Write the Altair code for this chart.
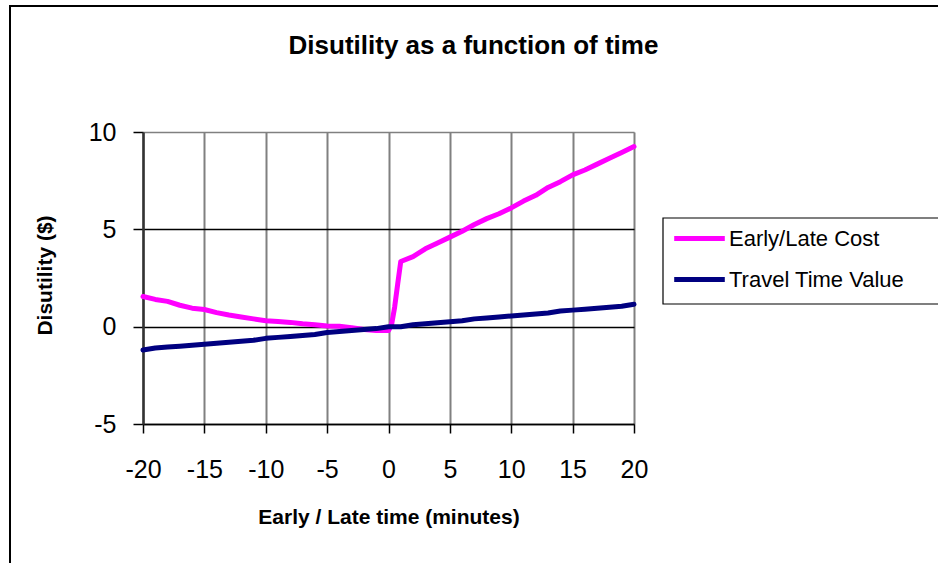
import altair as alt
import pandas as pd

# Minutes early (negative) or late (positive) relative to the preferred arrival time
minutes = list(range(-20, 21))

# Value of travel time, $ (one reading per minute)
travel_time_value = [
    -1.2, -1.1, -1.05, -1.0, -0.95, -0.9, -0.85, -0.8, -0.75, -0.7,
    -0.6, -0.55, -0.5, -0.45, -0.4, -0.3, -0.25, -0.2, -0.15, -0.1,
    0.0, 0.0, 0.1, 0.15, 0.2, 0.25, 0.3, 0.4, 0.45, 0.5,
    0.55, 0.6, 0.65, 0.7, 0.8, 0.85, 0.9, 0.95, 1.0, 1.05, 1.15,
]

# Early/late schedule-delay cost, $ (finer steps around the jump at 0)
cost_minutes = list(range(-20, 1)) + [0.25, 0.5, 0.75] + list(range(1, 21))
early_late_cost = [
    1.55, 1.4, 1.3, 1.1, 0.95, 0.88, 0.72, 0.6, 0.5, 0.4,
    0.3, 0.27, 0.22, 0.15, 0.1, 0.03, 0.02, -0.05, -0.15, -0.2,
    -0.2,
    0.1, 1.0, 2.2,
    3.35, 3.6, 4.0, 4.3, 4.6, 4.9, 5.25, 5.55, 5.8, 6.1,
    6.45, 6.75, 7.15, 7.45, 7.8, 8.05, 8.35, 8.65, 8.95, 9.25,
]

series_names = ["Early/Late Cost", "Travel Time Value"]
series_colors = ["#FF00FF", "#000080"]

data = pd.concat([
    pd.DataFrame({"minutes": cost_minutes, "value": early_late_cost,
                  "series": series_names[0], "order": range(len(cost_minutes))}),
    pd.DataFrame({"minutes": minutes, "value": travel_time_value,
                  "series": series_names[1], "order": range(len(minutes))}),
])

FONT = "Liberation Sans"
PLOT_W, PLOT_H = 491, 292
LEFT, TOP = 143, 132

lines = alt.Chart(data).mark_line(strokeWidth=5, strokeCap="round", strokeJoin="round").encode(
    x=alt.X(
        "minutes:Q",
        scale=alt.Scale(domain=[-20, 20], nice=False, zero=False),
        axis=alt.Axis(
            title="Early / Late time (minutes)",
            values=[-20, -15, -10, -5, 0, 5, 10, 15, 20],
            labelExpr="'' + datum.value",
            grid=True, gridColor="#808080", gridWidth=2,
            domainColor="black", domainWidth=1.5,
            tickColor="black", tickSize=9, tickWidth=1.5,
            labelFont=FONT, labelFontSize=25, labelColor="black",
            labelBaseline="alphabetic", labelPadding=44, labelFlush=False,
            titleFont=FONT, titleFontSize=21, titleFontWeight="bold", titleColor="black",
            titleBaseline="alphabetic", titleY=99, titleX=PLOT_W / 2,
        ),
    ),
    y=alt.Y(
        "value:Q",
        scale=alt.Scale(domain=[-5, 10], nice=False, zero=False),
        axis=alt.Axis(
            title="Disutility ($)",
            values=[-5, 0, 5, 10],
            labelExpr="'' + datum.value",
            grid=True,
            gridColor=alt.condition("datum.value == 10", alt.value("#808080"), alt.value("black")),
            gridWidth=1.3,
            domainColor="#333333", domainWidth=2.5,
            tickColor="black", tickSize=10, tickWidth=1.5,
            labelFont=FONT, labelFontSize=25, labelColor="black",
            labelPadding=17, labelFlush=False,
            titleFont=FONT, titleFontSize=21, titleFontWeight="bold", titleColor="black",
            titleAngle=-90, titleAlign="center", titleBaseline="middle",
            titleX=-98, titleY=143,
        ),
    ),
    color=alt.Color(
        "series:N",
        scale=alt.Scale(domain=series_names, range=series_colors),
        legend=alt.Legend(
            title=None, orient="none", legendX=520, legendY=84,
            symbolType="M-2.3,0H2.3", symbolStrokeWidth=5, symbolSize=484,
            symbolOffset=14, symbolFillColor="transparent",
            labelFont=FONT, labelFontSize=22, labelColor="black",
            labelOffset=16, labelLimit=400,
            padding=9, rowPadding=16,
        ),
    ),
    order="order:Q",
)

# Outer chart frame and the legend box (both run past the right edge)
frame = alt.Chart(alt.Data(values=[{}])).mark_rect(
    fill=None, stroke="black", strokeWidth=2
).encode(
    x=alt.value(10 - LEFT), x2=alt.value(1100 - LEFT),
    y=alt.value(6 - TOP), y2=alt.value(700 - TOP),
)
legend_box = alt.Chart(alt.Data(values=[{}])).mark_rect(
    fill="white", stroke="black", strokeWidth=1.2
).encode(
    x=alt.value(663 - LEFT), x2=alt.value(1000 - LEFT),
    y=alt.value(218 - TOP), y2=alt.value(304 - TOP),
)

chart = alt.layer(frame, legend_box, lines).properties(
    width=PLOT_W,
    height=PLOT_H,
    padding={"left": LEFT, "top": TOP, "right": 938 - LEFT - PLOT_W, "bottom": 563 - TOP - PLOT_H},
    autosize=alt.AutoSizeParams(type="none"),
    title=alt.TitleParams(
        "Disutility as a function of time",
        font=FONT, fontSize=26, fontWeight="bold", color="black",
        anchor="middle", frame="group", dx=85, offset=-54,
    ),
).configure_view(
    stroke="#808080", strokeWidth=2
).configure(background="white")

chart.save("out.html", embed_options={"renderer": "svg", "actions": False})
